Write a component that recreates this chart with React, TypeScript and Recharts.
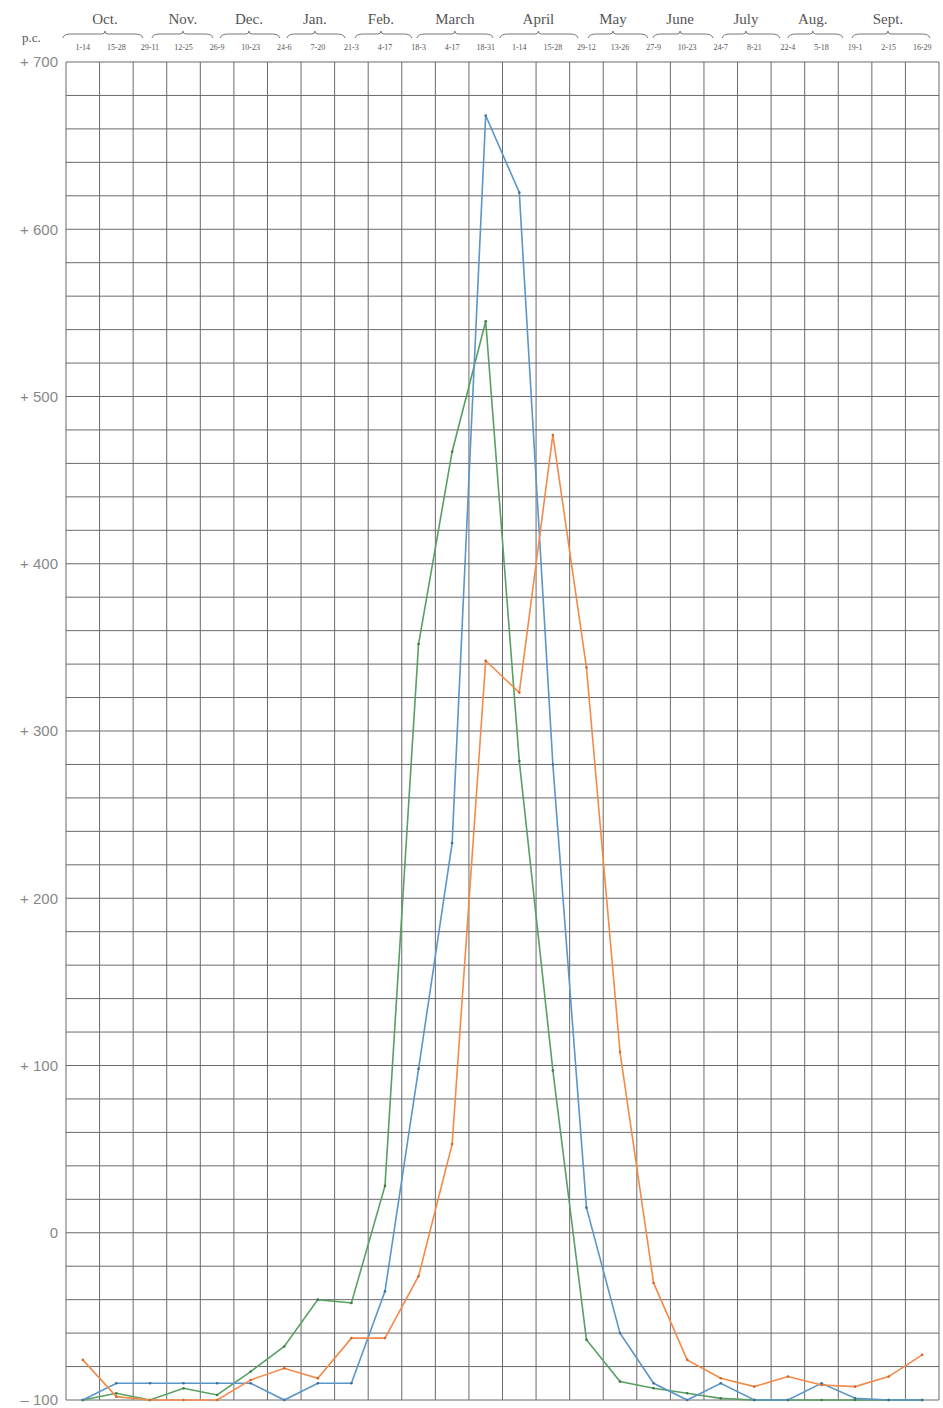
import { LineChart, Line, XAxis, YAxis, CartesianGrid } from "recharts";

// fortnightly periods, October to September
const periods = [
  "1-14", "15-28", "29-11", "12-25", "26-9", "10-23", "24-6", "7-20", "21-3", "4-17", "18-3", "4-17", "18-31",
  "1-14", "15-28", "29-12", "13-26", "27-9", "10-23", "24-7", "8-21", "22-4", "5-18", "19-1", "2-15", "16-29",
];

// month names over the period row; where each sits on the period scale and how far its brace runs
const months = ["Oct.", "Nov.", "Dec.", "Jan.", "Feb.", "March", "April", "May", "June", "July", "Aug.", "Sept."];
const monthAt = [1.16, 3.48, 5.45, 7.41, 9.38, 11.58, 14.07, 16.29, 18.29, 20.25, 22.24, 24.48];
const monthFrom = [-0.1, 2.56, 4.59, 6.58, 8.61, 10.45, 12.92, 15.55, 17.48, 19.54, 21.5, 23.41];
const monthTo = [2.29, 4.38, 6.37, 8.31, 10.3, 12.72, 15.25, 17.33, 19.27, 21.26, 23.14, 25.73];

// per cent above / below the mean
const green = [-100, -96, -100, -93, -97, -83, -68, -40, -42, 28, 352, 467, 545, 282, 97, -64, -89, -93, -96, -99, -100, -100, -100, -100, -100, -100];
const blue = [-100, -90, -90, -90, -90, -90, -100, -90, -90, -35, 98, 233, 668, 622, 280, 15, -60, -90, -100, -90, -100, -100, -90, -99, -100, -100];
const orange = [-76, -98, -100, -100, -100, -88, -81, -87, -63, -63, -26, 53, 342, 323, 477, 338, 108, -30, -76, -87, -92, -86, -91, -92, -86, -73];

const yTicks = [
  -100, -80, -60, -40, -20, 0, 20, 40, 60, 80, 100, 120, 140, 160, 180, 200, 220, 240, 260, 280, 300,
  320, 340, 360, 380, 400, 420, 440, 460, 480, 500, 520, 540, 560, 580, 600, 620, 640, 660, 680, 700,
];

const rows = periods.map((p, i) => ({ pos: i + 0.5, period: p, green: green[i], blue: blue[i], orange: orange[i] }));
const periodTicks = periods.map((_, i) => i + 0.5);

const W = 943;
const H = 1408;
const LEFT = 66;
const RIGHT = 939;
const cell = (RIGHT - LEFT) / periods.length;
const gridX = [...periods.map((_, i) => LEFT + i * cell), RIGHT];

const serif = "'Liberation Serif', 'DejaVu Serif', serif";

function PeriodTick(props: any) {
  const { x, y, payload } = props;
  const label = periods[Math.round(payload.value - 0.5)];
  return (
    <text x={x} y={y - 12} textAnchor="middle" fontSize={8} fontFamily={serif} fill="#555">
      {label}
    </text>
  );
}

function MonthTick(props: any) {
  const { y, payload } = props;
  const i = monthAt.indexOf(payload.value);
  if (i < 0) return null;
  const x = LEFT + monthAt[i] * cell;
  const x0 = LEFT + monthFrom[i] * cell;
  const x1 = LEFT + monthTo[i] * cell;
  const by = y - 4;
  const d = `M${x0},${by + 4} Q${x0 + 1},${by} ${x0 + 8},${by} L${x - 3},${by} Q${x},${by} ${x},${by - 3} Q${x},${by} ${x + 3},${by} L${x1 - 8},${by} Q${x1 - 1},${by} ${x1},${by + 4}`;
  return (
    <g>
      <text x={x} y={y - 14} textAnchor="middle" fontSize={15} fontFamily={serif} fill="#555">
        {months[i]}
      </text>
      <path d={d} fill="none" stroke="#777" strokeWidth={1} />
    </g>
  );
}

const fmtY = (v: number) => (v % 100 !== 0 ? "" : v > 0 ? `+ ${v}` : v < 0 ? `– ${-v}` : "0");

export default function App() {
  return (
    <div style={{ position: "absolute", left: 0, top: 0, width: W, height: H, background: "#fff" }}>
      <span style={{ position: "absolute", left: 22, top: 30, fontFamily: serif, fontSize: 13, color: "#555" }}>p.c.</span>
      <LineChart width={W} height={H} data={rows} margin={{ top: 0, right: W - RIGHT, bottom: 8, left: 0 }}>
        <CartesianGrid stroke="#6a6a6a" strokeWidth={1} verticalPoints={gridX} />
        <XAxis
          dataKey="pos"
          type="number"
          domain={[0, periods.length]}
          allowDataOverflow
          ticks={periodTicks}
          interval={0}
          orientation="top"
          height={24}
          tickSize={0}
          tickMargin={0}
          axisLine={false}
          tick={<PeriodTick />}
        />
        <XAxis
          xAxisId="month"
          dataKey="pos"
          type="number"
          domain={[0, periods.length]}
          allowDataOverflow
          ticks={monthAt}
          interval={0}
          orientation="top"
          height={38}
          tickSize={0}
          tickMargin={0}
          axisLine={false}
          tick={<MonthTick />}
        />
        <YAxis
          domain={[-100, 700]}
          ticks={yTicks}
          interval={0}
          width={LEFT}
          tickLine={false}
          axisLine={false}
          tickFormatter={fmtY}
          tick={{ fontSize: 15, fill: "#888", fontFamily: "'Liberation Sans', Arial, sans-serif" }}
        />
        <Line dataKey="green" type="linear" stroke="#58a062" strokeWidth={1.6} dot={{ r: 1.3, fill: "#3f7a47", stroke: "none" }} activeDot={false} isAnimationActive={false} />
        <Line dataKey="blue" type="linear" stroke="#5a96c8" strokeWidth={1.6} dot={{ r: 1.3, fill: "#3e6f98", stroke: "none" }} activeDot={false} isAnimationActive={false} />
        <Line dataKey="orange" type="linear" stroke="#f38a48" strokeWidth={1.6} dot={{ r: 1.3, fill: "#c96a30", stroke: "none" }} activeDot={false} isAnimationActive={false} />
      </LineChart>
    </div>
  );
}
